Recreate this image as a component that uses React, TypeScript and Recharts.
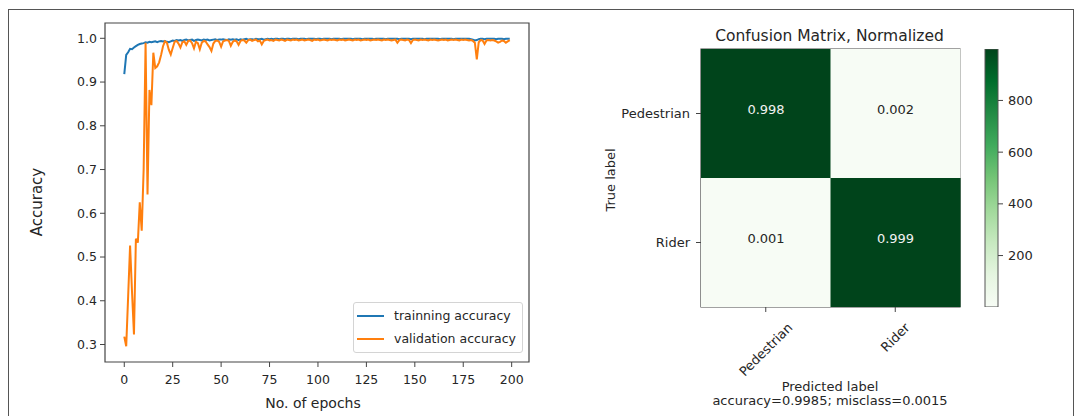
import React from 'react';
import {
  LineChart, Line, XAxis, YAxis, Legend, ReferenceArea, Label,
  BarChart, Bar, Cell, LabelList,
} from 'recharts';

const FONT = '"DejaVu Sans", "Liberation Sans", sans-serif';
const TEXT = '#262626';
const FRAME = '#444';

// training history
const epochTicks = [0, 25, 50, 75, 100, 125, 150, 175, 200];
const accuracyTicks = [0.3, 0.4, 0.5, 0.6, 0.7, 0.8, 0.9, 1.0];

const trainAcc = [
  0.918, 0.962, 0.968, 0.976, 0.975, 0.979, 0.982, 0.985, 0.987, 0.988,
  0.989, 0.991, 0.990, 0.992, 0.991, 0.992, 0.993, 0.991, 0.993, 0.994,
  0.993, 0.994, 0.992, 0.991, 0.993, 0.995, 0.994, 0.996, 0.995, 0.996,
  0.994, 0.996, 0.997, 0.995, 0.996, 0.997, 0.994, 0.996, 0.997, 0.996,
  0.995, 0.997, 0.996, 0.997, 0.995, 0.996, 0.997, 0.998, 0.996, 0.997,
  0.997, 0.998, 0.997, 0.996, 0.998, 0.997, 0.998, 0.997, 0.998, 0.996,
  0.998, 0.997, 0.998, 0.999, 0.997, 0.998, 0.998, 0.997, 0.999, 0.998,
  0.998, 0.999, 0.997, 0.998, 0.999, 0.998, 0.999, 0.998, 0.999, 0.999,
  0.998, 0.999, 0.999, 0.998, 0.999, 0.999, 0.998, 0.999, 0.999, 0.999,
  0.998, 0.999, 0.999, 0.999, 0.998, 0.999, 0.999, 0.999, 0.999, 0.998,
  0.999, 0.999, 0.998, 0.999, 0.999, 0.999, 0.999, 0.998, 0.999, 0.999,
  0.999, 0.999, 0.998, 0.999, 0.999, 0.999, 0.999, 0.999, 0.998, 0.999,
  0.999, 0.999, 0.999, 0.998, 0.999, 0.999, 0.999, 0.999, 0.999, 0.998,
  0.999, 0.999, 0.999, 0.999, 0.999, 0.998, 0.999, 0.999, 0.999, 0.999,
  0.999, 0.999, 0.998, 0.999, 0.999, 0.999, 0.999, 0.999, 0.998, 0.999,
  0.999, 0.999, 0.999, 0.999, 0.999, 0.998, 0.999, 0.999, 0.999, 0.999,
  0.999, 0.999, 0.999, 0.998, 0.999, 0.999, 0.999, 0.999, 0.999, 0.999,
  0.998, 0.999, 0.999, 0.999, 0.999, 0.999, 0.999, 0.999, 0.999, 0.998,
  0.997, 0.995, 0.996, 0.998, 0.999, 0.999, 0.998, 0.999, 0.999, 0.999,
  0.999, 0.999, 0.998, 0.999, 0.999, 0.999, 0.998, 0.999, 0.999, 0.999,
];

const valAcc = [
  0.318, 0.296, 0.410, 0.526, 0.420, 0.323, 0.542, 0.533, 0.625, 0.560,
  0.700, 0.990, 0.643, 0.882, 0.847, 0.967, 0.932, 0.936, 0.945, 0.962,
  0.982, 0.993, 0.990, 0.974, 0.963, 0.978, 0.992, 0.994, 0.988, 0.979,
  0.991, 0.993, 0.985, 0.994, 0.995, 0.989, 0.977, 0.992, 0.989, 0.975,
  0.990, 0.994, 0.993, 0.986, 0.980, 0.971, 0.988, 0.994, 0.995, 0.992,
  0.981, 0.993, 0.995, 0.996, 0.994, 0.983, 0.992, 0.995, 0.993, 0.985,
  0.994, 0.996, 0.995, 0.990, 0.996, 0.997, 0.994, 0.996, 0.997, 0.993,
  0.995, 0.986, 0.994, 0.996, 0.997, 0.995, 0.996, 0.994, 0.997, 0.996,
  0.995, 0.997, 0.996, 0.994, 0.997, 0.996, 0.995, 0.997, 0.996, 0.997,
  0.995, 0.996, 0.997, 0.995, 0.996, 0.997, 0.996, 0.994, 0.997, 0.996,
  0.997, 0.995, 0.996, 0.997, 0.996, 0.995, 0.997, 0.996, 0.997, 0.996,
  0.995, 0.997, 0.996, 0.997, 0.995, 0.996, 0.997, 0.996, 0.995, 0.997,
  0.996, 0.997, 0.995, 0.996, 0.997, 0.996, 0.997, 0.995, 0.996, 0.997,
  0.996, 0.997, 0.996, 0.995, 0.997, 0.996, 0.997, 0.996, 0.995, 0.996,
  0.997, 0.990, 0.996, 0.997, 0.996, 0.995, 0.997, 0.996, 0.989, 0.996,
  0.997, 0.996, 0.995, 0.997, 0.996, 0.997, 0.996, 0.995, 0.997, 0.996,
  0.997, 0.996, 0.995, 0.996, 0.997, 0.996, 0.997, 0.995, 0.996, 0.997,
  0.996, 0.997, 0.996, 0.995, 0.997, 0.996, 0.997, 0.996, 0.995, 0.996,
  0.994, 0.990, 0.952, 0.991, 0.996, 0.995, 0.987, 0.995, 0.996, 0.995,
  0.996, 0.995, 0.993, 0.990, 0.992, 0.995, 0.994, 0.990, 0.993, 0.996,
];

// confusion matrix (rows = true label, columns = predicted label)
const classNames = ['Pedestrian', 'Rider'];
const cmCounts = [
  [998, 2],
  [1, 999],
];
const cmNormalized = [
  [0.998, 0.002],
  [0.001, 0.999],
];
const colorbarTicks = [200, 400, 600, 800];
const summaryText = 'accuracy=0.9985; misclass=0.0015';

const historyData = trainAcc.map((v, i) => ({ epoch: i, train: v, val: valAcc[i] }));

const allCounts = cmCounts.flat();
const cmin = Math.min(...allCounts);
const cmax = Math.max(...allCounts);

const cmData = classNames.map((pred, j) => {
  const row: Record<string, any> = { pred };
  classNames.forEach((truth, i) => {
    row[truth] = 1;
    row[truth + '_norm'] = cmNormalized[i][j];
  });
  return row;
});

const colorbarData = [{ name: 'counts', lo: cmin, hi: cmax }];

// matplotlib "Greens"
const GREENS = ['#f7fcf5', '#e5f5e0', '#c7e9c0', '#a1d99b', '#74c476', '#41ab5d', '#238b45', '#006d2c', '#00441b'];

const hexToRgb = (h: string) => [1, 3, 5].map((k) => parseInt(h.slice(k, k + 2), 16));

const greens = (t: number) => {
  const p = Math.max(0, Math.min(1, t)) * (GREENS.length - 1);
  const i = Math.min(Math.floor(p), GREENS.length - 2);
  const f = p - i;
  const a = hexToRgb(GREENS[i]);
  const b = hexToRgb(GREENS[i + 1]);
  const c = a.map((v, k) => Math.round(v + (b[k] - v) * f));
  return `rgb(${c[0]},${c[1]},${c[2]})`;
};

const renderLegend = (props: any) => {
  const { payload = [] } = props;
  return (
    <div
      style={{
        boxSizing: 'border-box', width: 170, height: 51, border: '1px solid #d4d4d4',
        borderRadius: 3, background: '#fff', paddingTop: 1, fontSize: 12.5, color: TEXT,
      }}
    >
      {payload.map((entry: any) => (
        <div key={entry.value} style={{ display: 'flex', alignItems: 'center', height: 23 }}>
          <span style={{ display: 'inline-block', width: 27, height: 2, background: entry.color, marginLeft: 3, marginRight: 10 }} />
          <span>{entry.value}</span>
        </div>
      ))}
    </div>
  );
};

const renderCellLabel = (props: any) => {
  const { x, y, width, height, value } = props;
  return (
    <text
      x={x + width / 2}
      y={y + height / 2 - 4}
      textAnchor="middle"
      dominantBaseline="central"
      fontSize={13}
      fill={value > 0.5 ? '#f2f2f2' : TEXT}
    >
      {Number(value).toFixed(3)}
    </text>
  );
};

const MatrixXTick = (props: any) => {
  const { x, y, payload } = props;
  const w = String(payload.value).length * 0.53 * 13;
  const cy = y + 8 + (w + 9) * 0.3535;
  return (
    <text
      x={x}
      y={cy}
      transform={`rotate(-45, ${x}, ${cy})`}
      textAnchor="middle"
      dominantBaseline="central"
      fontSize={13}
      fill={TEXT}
    >
      {payload.value}
    </text>
  );
};

const App: React.FC = () => {
  return (
    <div style={{ position: 'absolute', left: 0, top: 0, width: 1080, height: 416, overflow: 'hidden', background: '#fff', fontFamily: FONT }}>
      <div style={{ position: 'absolute', left: 8, top: 9, width: 1064, height: 420, border: '1px solid #555' }} />

      {/* accuracy history */}
      <div style={{ position: 'absolute', left: 0, top: 0 }}>
        <LineChart width={540} height={416} data={historyData} margin={{ top: 23, right: 11, bottom: 0, left: 0 }}>
          <XAxis
            dataKey="epoch"
            type="number"
            domain={[-9.95, 208.95]}
            allowDataOverflow
            ticks={epochTicks}
            height={54}
            axisLine={false}
            tickLine={{ stroke: FRAME }}
            tickSize={5}
            tickMargin={8}
            tick={{ fontSize: 12.5, fill: TEXT }}
          >
            <Label content={() => <text x={313} y={408} textAnchor="middle" fontSize={14} fill={TEXT}>No. of epochs</text>} />
          </XAxis>
          <YAxis
            type="number"
            domain={[0.26, 1.035]}
            allowDataOverflow
            ticks={accuracyTicks}
            width={105}
            axisLine={false}
            tickLine={{ stroke: FRAME }}
            tickSize={5}
            tickMargin={3}
            tick={{ fontSize: 12.5, fill: TEXT }}
            tickFormatter={(v: number) => v.toFixed(1)}
          >
            <Label
              content={() => (
                <text transform="translate(37, 202) rotate(-90)" textAnchor="middle" dominantBaseline="central" fontSize={15} fill={TEXT}>
                  Accuracy
                </text>
              )}
            />
          </YAxis>
          <ReferenceArea x1={-9.95} x2={208.95} y1={0.26} y2={1.035} fill="none" stroke={FRAME} strokeWidth={1.2} ifOverflow="visible" />
          <Line type="linear" dataKey="train" name="trainning accuracy" stroke="#1f77b4" strokeWidth={2} dot={false} isAnimationActive={false} />
          <Line type="linear" dataKey="val" name="validation accuracy" stroke="#ff7f0e" strokeWidth={2} dot={false} isAnimationActive={false} />
          <Legend
            layout="vertical"
            align="center"
            verticalAlign="middle"
            content={renderLegend}
            wrapperStyle={{ left: 353, top: 302, width: 170, height: 51 }}
          />
        </LineChart>
      </div>

      {/* confusion matrix */}
      <div
        style={{
          position: 'absolute', left: 679.5, top: 27, width: 300, textAlign: 'center',
          fontSize: 15.5, lineHeight: '18px', color: TEXT,
        }}
      >
        Confusion Matrix, Normalized
      </div>
      <div style={{ position: 'absolute', left: 590, top: 0 }}>
        <BarChart width={400} height={416} data={cmData} margin={{ top: 49, right: 30, bottom: 0, left: 0 }} barCategoryGap={0} barGap={0}>
          <XAxis
            dataKey="pred"
            type="category"
            height={109}
            axisLine={false}
            tickLine={{ stroke: FRAME }}
            tickSize={5}
            tick={<MatrixXTick />}
          >
            <Label
              content={() => (
                <g>
                  <text x={240} y={391} textAnchor="middle" fontSize={13} fill={TEXT}>Predicted label</text>
                  <text x={240} y={404.5} textAnchor="middle" fontSize={13} fill={TEXT}>{summaryText}</text>
                </g>
              )}
            />
          </XAxis>
          <YAxis
            type="number"
            domain={[0, classNames.length]}
            ticks={[0.5, 1.5]}
            width={111}
            axisLine={false}
            tickLine={{ stroke: FRAME }}
            tickSize={5}
            tickMargin={6}
            tick={{ fontSize: 13, fill: TEXT }}
            tickFormatter={(v: number) => classNames[classNames.length - 1 - Math.floor(v)]}
          >
            <Label
              content={() => (
                <text transform="translate(20, 180) rotate(-90)" textAnchor="middle" dominantBaseline="central" fontSize={13} fill={TEXT}>
                  True label
                </text>
              )}
            />
          </YAxis>
          {[...classNames].reverse().map((truth) => {
            const i = classNames.indexOf(truth);
            return (
              <Bar key={truth} dataKey={truth} stackId="cm" isAnimationActive={false}>
                {cmData.map((row, j) => (
                  <Cell key={row.pred} fill={greens((cmCounts[i][j] - cmin) / (cmax - cmin))} />
                ))}
                <LabelList dataKey={truth + '_norm'} content={renderCellLabel} />
              </Bar>
            );
          })}
          <ReferenceArea y1={0} y2={classNames.length} fill="none" stroke={FRAME} strokeWidth={1.2} ifOverflow="visible" />
        </BarChart>
      </div>

      {/* colour bar */}
      <div style={{ position: 'absolute', left: 980, top: 0 }}>
        <BarChart width={70} height={416} data={colorbarData} margin={{ top: 49, right: 0, bottom: 109, left: 5 }} barCategoryGap={0}>
          <defs>
            <linearGradient id="cbGreens" x1="0" y1="1" x2="0" y2="0">
              {GREENS.map((c, k) => (
                <stop key={c} offset={`${(k / (GREENS.length - 1)) * 100}%`} stopColor={c} />
              ))}
            </linearGradient>
          </defs>
          <XAxis dataKey="name" hide />
          <YAxis
            orientation="right"
            type="number"
            domain={[cmin, cmax]}
            allowDataOverflow
            ticks={colorbarTicks}
            width={52}
            axisLine={false}
            tickLine={{ stroke: FRAME }}
            tickSize={5}
            tickMargin={5}
            tick={{ fontSize: 13, fill: TEXT, textAnchor: 'start' }}
          />
          <Bar dataKey={(d: any) => [d.lo, d.hi]} fill="url(#cbGreens)" stroke="#555" strokeWidth={1} isAnimationActive={false} />
        </BarChart>
      </div>
    </div>
  );
};

export default App;
